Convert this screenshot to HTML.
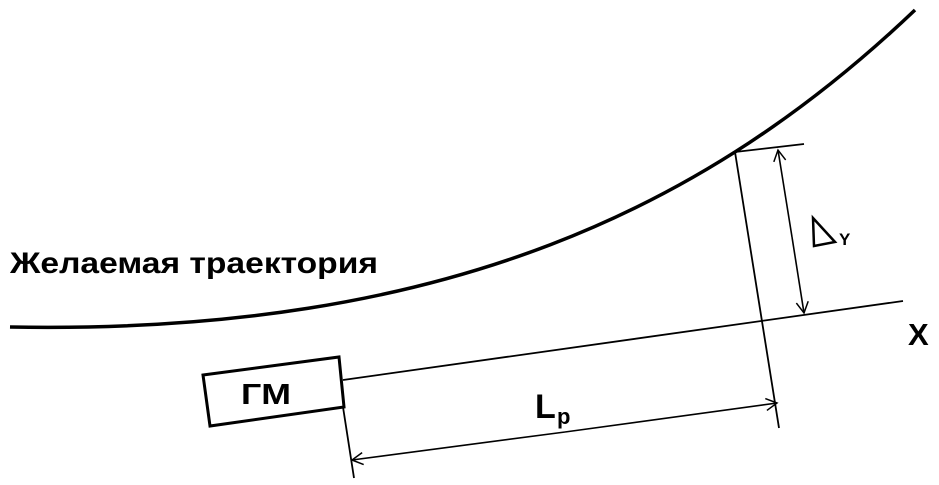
<!DOCTYPE html>
<html><head><meta charset="utf-8"><style>
html,body{margin:0;padding:0;background:#fff;}
svg{display:block;}
text{font-family:"Liberation Sans","DejaVu Sans",sans-serif;font-weight:bold;fill:#000;}
</style></head><body>
<svg width="939" height="485" viewBox="0 0 939 485" xmlns="http://www.w3.org/2000/svg">
<defs>
<marker id="a" markerWidth="14" markerHeight="14" refX="12" refY="7" orient="auto" markerUnits="userSpaceOnUse">
<path d="M1,1 L12,7 L1,13" fill="none" stroke="#000" stroke-width="1.5"/>
</marker>
</defs>
<path d="M10,327 C450,335 710,205 915,10" fill="none" stroke="#000" stroke-width="3.5"/>
<text x="10" y="273" font-size="30" textLength="368" lengthAdjust="spacingAndGlyphs">Желаемая траектория</text>
<line x1="343" y1="380" x2="903" y2="301" stroke="#000" stroke-width="1.8"/>
<polygon points="203,375 339,357 344,407 210,426" fill="#fff" stroke="#000" stroke-width="3"/>
<text x="241" y="404" font-size="29" textLength="50" lengthAdjust="spacingAndGlyphs">ГМ</text>
<line x1="343" y1="407" x2="354" y2="478" stroke="#000" stroke-width="1.8"/>
<line x1="735" y1="152" x2="779" y2="428" stroke="#000" stroke-width="1.8"/>
<line x1="735" y1="152" x2="804" y2="144" stroke="#000" stroke-width="1.8"/>
<line x1="792" y1="237" x2="778" y2="150" stroke="#000" stroke-width="1.6" marker-end="url(#a)"/>
<line x1="792" y1="237" x2="804" y2="313" stroke="#000" stroke-width="1.6" marker-end="url(#a)"/>
<line x1="565" y1="432" x2="352" y2="460" stroke="#000" stroke-width="1.6" marker-end="url(#a)"/>
<line x1="565" y1="432" x2="777" y2="403" stroke="#000" stroke-width="1.6" marker-end="url(#a)"/>
<polygon points="813,218 835,242 814,246" fill="none" stroke="#000" stroke-width="2.5"/>
<text x="839" y="245" font-size="17">Y</text>
<text x="535" y="418" font-size="34">L</text>
<text x="557" y="424" font-size="22">p</text>
<text x="908" y="345" font-size="31">X</text>
</svg>
</body></html>
